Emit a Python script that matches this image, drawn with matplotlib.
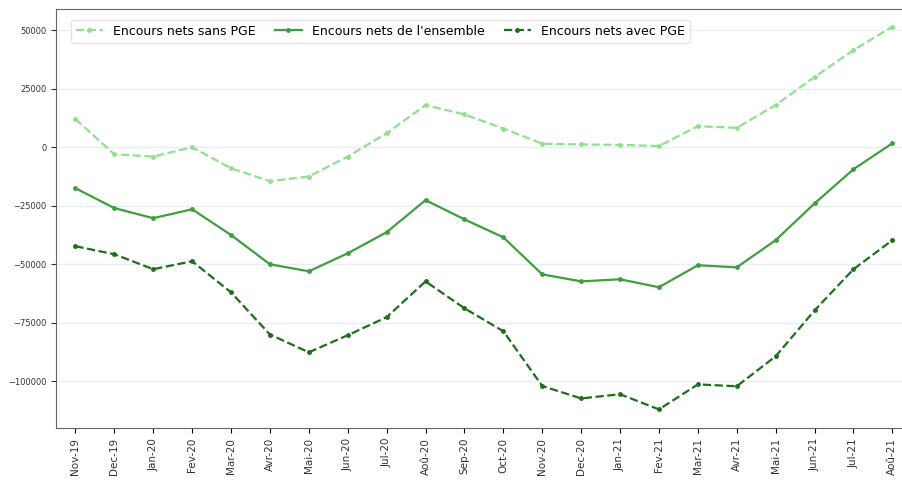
import numpy as np
import matplotlib.pyplot as plt

mois = ['Nov-19', 'Dec-19', 'Jan-20', 'Fev-20', 'Mar-20', 'Avr-20', 'Mai-20', 'Jun-20',
        'Jul-20', 'Aoû-20', 'Sep-20', 'Oct-20', 'Nov-20', 'Dec-20', 'Jan-21', 'Fev-21',
        'Mar-21', 'Avr-21', 'Mai-21', 'Jun-21', 'Jul-21', 'Aoû-21']

sans_pge = [12000, -3000, -4000, 0, -9000, -14500, -12500, -4000, 6000, 18000, 14000,
            8000, 1500, 1200, 1000, 500, 9000, 8300, 18000, 30000, 41500, 51500]
ensemble = [-17500, -26000, -30300, -26500, -37500, -50000, -53000, -45300, -36300, -22600,
            -30800, -38500, -54300, -57300, -56400, -59800, -50400, -51300, -39700, -24000,
            -9400, 1700]
avec_pge = [-42300, -45700, -52100, -48700, -62000, -80000, -87600, -80300, -72600, -57300,
            -68800, -78600, -102000, -107300, -105500, -112000, -101300, -102100, -89300,
            -69700, -52100, -39700]

x = np.arange(len(mois))

fig = plt.figure(figsize=(9.03, 4.8), dpi=100)
ax = fig.add_axes([0.062, 0.108, 0.937, 0.873])

ax.plot(x, sans_pge, color='#8fe08f', linestyle='--', marker='o', markersize=2.5,
        linewidth=1.6, label='Encours nets sans PGE')
ax.plot(x, ensemble, color='#3f9f3f', linestyle='-', marker='o', markersize=2.5,
        linewidth=1.6, label="Encours nets de l'ensemble")
ax.plot(x, avec_pge, color='#1e6e1e', linestyle='--', marker='o', markersize=2.5,
        linewidth=1.6, label='Encours nets avec PGE')

ax.set_xlim(-0.5, 21.25)
ax.set_ylim(-120000, 59000)
ax.set_yticks([50000, 25000, 0, -25000, -50000, -75000, -100000])
ax.set_xticks(x)
ax.set_xticklabels(mois, rotation=90, fontsize=7.5, color='#333333')
ax.tick_params(axis='y', labelsize=6, colors='#333333')
ax.yaxis.grid(True, color='#e6eef4', linewidth=1)
ax.set_axisbelow(True)
for s in ax.spines.values():
    s.set_color('#666666')
ax.spines['right'].set_visible(False)

ax.legend(loc='upper left', ncol=3, fontsize=9, frameon=True, edgecolor='#dddddd',
          bbox_to_anchor=(0.01, 0.99), handlelength=2.2, columnspacing=1.5)

plt.savefig('out.png')
